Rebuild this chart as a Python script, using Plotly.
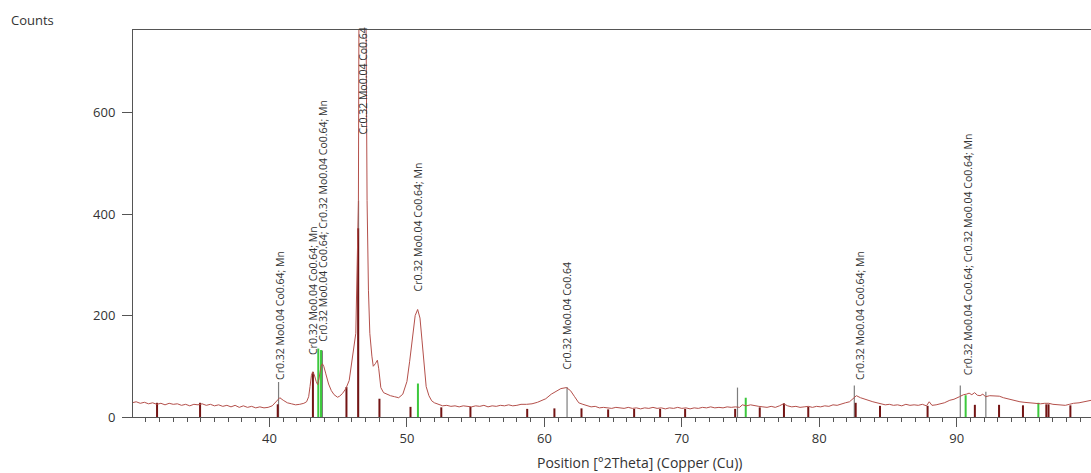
import plotly.graph_objects as go

# ---------------- data ----------------
two_theta = [30.0, 30.3, 30.6, 30.9, 31.2, 31.5, 31.8, 32.1, 32.4, 32.7, 33.0, 33.3, 33.6, 33.9,
             34.2, 34.5, 34.8, 35.1, 35.4, 35.7, 36.0, 36.3, 36.6, 36.9, 37.2, 37.5, 37.8, 38.1,
             38.4, 38.7, 39.0, 39.3, 39.6, 39.9, 40.2, 40.5, 40.75, 41.0, 41.3, 41.6, 41.9, 42.2,
             42.5, 42.7, 42.85, 42.95, 43.05, 43.15, 43.25, 43.4, 43.5, 43.6, 43.75, 43.85, 43.95,
             44.1, 44.3, 44.5, 44.7, 44.95, 45.1, 45.3, 45.56, 45.8, 45.93, 46.1, 46.28, 46.38,
             46.47, 46.52, 46.75, 47.0, 47.1, 47.2, 47.3, 47.45, 47.55, 47.7, 47.85, 47.95, 48.1,
             48.3, 48.5, 48.8, 49.1, 49.4, 49.7, 50.0, 50.2, 50.4, 50.6, 50.78, 50.95, 51.1, 51.26,
             51.4, 51.6, 51.8, 52.0, 52.3, 52.6, 52.9, 53.2, 53.5, 53.8, 54.1, 54.4, 54.7, 55.0,
             55.3, 55.6, 55.9, 56.2, 56.5, 56.8, 57.1, 57.4, 57.7, 58.0, 58.3, 58.7, 59.1, 59.5,
             59.8, 60.1, 60.5, 60.9, 61.2, 61.6, 61.9, 62.2, 62.5, 62.8, 63.1, 63.4, 63.7, 64.0,
             64.3, 64.6, 64.9, 65.2, 65.5, 65.8, 66.1, 66.4, 66.7, 67.0, 67.3, 67.6, 67.9, 68.2,
             68.5, 68.8, 69.1, 69.4, 69.7, 70.0, 70.3, 70.6, 70.9, 71.2, 71.5, 71.8, 72.1, 72.4,
             72.7, 73.0, 73.3, 73.6, 73.9, 74.2, 74.4, 74.7, 75.0, 75.3, 75.6, 75.9, 76.2, 76.5,
             76.8, 77.1, 77.4, 77.7, 78.0, 78.3, 78.6, 78.9, 79.2, 79.5, 79.8, 80.1, 80.4, 80.7,
             81.0, 81.3, 81.6, 81.9, 82.2, 82.5, 82.7, 83.0, 83.3, 83.6, 83.9, 84.2, 84.5, 84.8,
             85.1, 85.4, 85.7, 86.0, 86.3, 86.6, 86.9, 87.2, 87.5, 87.8, 88.0, 88.2, 88.5, 88.8,
             89.1, 89.5, 89.8, 90.2, 90.5, 90.7, 90.9, 91.1, 91.3, 91.5, 91.7, 91.9, 92.1, 92.4,
             92.8, 93.1, 93.4, 93.7, 94.0, 94.3, 94.6, 94.9, 95.2, 95.5, 95.8, 96.1, 96.4, 96.7,
             97.0, 97.3, 97.6, 97.9, 98.2, 98.5, 98.9, 99.2, 99.5, 99.8]
counts = [28, 30, 27, 29, 26, 28, 25, 27, 24, 27, 25, 26, 23, 25,
          22, 25, 24, 26, 23, 25, 22, 24, 21, 23, 20, 23, 19, 22,
          19, 21, 18, 20, 18, 19, 22, 30, 38, 33, 28, 26, 24, 25,
          27, 30, 40, 60, 82, 89, 84, 70, 64, 75, 100, 105, 100,
          85, 65, 52, 44, 39, 41, 46, 56, 72, 98, 130, 165, 300,
          427, 900, 1500, 900, 427, 250, 165, 120, 100, 105, 112, 95, 58,
          48, 45, 42, 40, 38, 45, 70, 110, 160, 200, 212, 195, 150, 98,
          60, 42, 32, 28, 25, 22, 23, 21, 22, 20, 22, 21, 20, 22,
          21, 23, 20, 22, 21, 23, 22, 24, 22, 23, 25, 25, 26, 29,
          32, 36, 45, 52, 56, 58, 52, 40, 28, 25, 22, 20, 21, 18,
          19, 18, 17, 19, 18, 17, 19, 17, 18, 16, 18, 17, 19, 17,
          18, 16, 18, 17, 19, 17, 18, 16, 18, 17, 19, 18, 20, 18,
          19, 18, 20, 19, 20, 19, 24, 22, 24, 22, 21, 20, 19, 21,
          19, 22, 26, 22, 20, 21, 19, 20, 21, 19, 21, 20, 22, 21,
          24, 23, 26, 28, 30, 38, 42, 38, 35, 32, 30, 28, 26, 24,
          25, 23, 24, 22, 25, 23, 24, 23, 25, 22, 30, 23, 24, 26,
          28, 33, 35, 40, 44, 45, 47, 44, 48, 43, 42, 45, 40, 42,
          42, 41, 38, 36, 33, 31, 30, 29, 28, 28, 27, 26, 27, 27,
          25, 24, 24, 23, 25, 27, 28, 30, 31, 33]

# reference pattern sticks (dark red)
ref1_pos = [31.82, 34.95, 40.6, 43.16, 45.6, 46.45, 48.0, 50.26, 52.5, 54.62, 58.75, 60.73,
            62.7, 64.64, 66.53, 68.42, 70.24, 73.88, 75.67, 77.43, 79.2, 82.65, 84.42, 87.88,
            91.32, 93.08, 94.82, 96.52, 96.68, 98.27]
ref1_int = [28, 28, 25, 89, 59, 372, 36, 20, 19, 20, 16, 17,
            17, 15, 16, 16, 16, 16, 19, 27, 20, 28, 22, 22,
            24, 24, 23, 25, 25, 23]
# reference pattern sticks (green)
ref2_pos = [43.55, 43.75, 50.8, 74.65, 90.65, 95.94]
ref2_int = [135, 132, 66, 38, 43, 28]
# peak marker lines (grey)
mark_pos = [40.66, 43.85, 46.48, 61.65, 74.05, 82.55, 90.26, 92.12]
mark_int = [69, 131, 427, 59, 58, 62, 62, 50]

# peak labels
label_pos = [40.72, 43.12, 43.91, 46.84, 50.78, 61.65, 82.92, 90.84]
label_bottom = [69, 118, 145, 553, 244, 89, 69, 79]
label_text = ["Cr0.32 Mo0.04 Co0.64; Mn",
              "Cr0.32 Mo0.04 Co0.64; Mn",
              "Cr0.32 Mo0.04 Co0.64; Cr0.32 Mo0.04 Co0.64; Mn",
              "Cr0.32 Mo0.04 Co0.64",
              "Cr0.32 Mo0.04 Co0.64; Mn",
              "Cr0.32 Mo0.04 Co0.64",
              "Cr0.32 Mo0.04 Co0.64; Mn",
              "Cr0.32 Mo0.04 Co0.64; Cr0.32 Mo0.04 Co0.64; Mn"]

y_ticks = [0, 200, 400, 600]


def sticks(pos, inten):
    xs, ys = [], []
    for p, v in zip(pos, inten):
        xs += [p, p, None]
        ys += [0, v, None]
    return xs, ys


FONT = "Open Sans"
fig = go.Figure()

gx, gy = sticks(mark_pos, mark_int)
fig.add_trace(go.Scatter(x=gx, y=gy, mode="lines",
                         line=dict(color="rgb(125,125,125)", width=1.2), hoverinfo="skip"))
rx, ry = sticks(ref1_pos, ref1_int)
fig.add_trace(go.Scatter(x=rx, y=ry, mode="lines",
                         line=dict(color="rgb(115,20,20)", width=2), hoverinfo="skip"))
ex, ey = sticks(ref2_pos, ref2_int)
fig.add_trace(go.Scatter(x=ex, y=ey, mode="lines",
                         line=dict(color="rgb(60,200,60)", width=2), hoverinfo="skip"))
fig.add_trace(go.Scatter(x=two_theta, y=counts, mode="lines",
                         line=dict(color="rgb(180,80,75)", width=1)))

for p, b, t in zip(label_pos, label_bottom, label_text):
    fig.add_annotation(x=p, y=b, text=t, textangle=-90, showarrow=False,
                       xanchor="center", yanchor="bottom",
                       font=dict(family=FONT, size=10.5, color="#333"))

fig.add_annotation(xref="paper", yref="paper", x=-0.129, y=1.027, text="Counts",
                   showarrow=False, xanchor="left", yanchor="middle",
                   font=dict(family=FONT, size=13, color="#333"))
fig.add_annotation(xref="paper", yref="paper", x=0.529, y=-0.117,
                   text="Position [°2Theta] (Copper (Cu))", showarrow=False,
                   xanchor="center", yanchor="middle",
                   font=dict(family=FONT, size=14, color="#333"))

fig.update_layout(
    width=1091, height=473,
    margin=dict(l=133, r=0, t=30, b=56),
    paper_bgcolor="white", plot_bgcolor="white",
    showlegend=False,
    font=dict(family=FONT, size=13, color="#333"),
    xaxis=dict(range=[30.07, 99.77], showgrid=False, zeroline=False,
               showline=True, linecolor="#555", linewidth=1, mirror=True,
               ticks="outside", ticklen=9, tickcolor="#555", tick0=0, dtick=10,
               minor=dict(dtick=1, ticks="outside", ticklen=4, tickcolor="#555"),
               tickfont=dict(family=FONT, size=13, color="#333")),
    yaxis=dict(range=[0, 763], showgrid=False, zeroline=False,
               showline=True, linecolor="#555", linewidth=1,
               ticks="outside", ticklen=10, tickcolor="#555",
               ticklabelstandoff=4,
               tickvals=y_ticks, ticktext=[str(v) for v in y_ticks],
               tickfont=dict(family=FONT, size=13, color="#333")),
)

fig.write_html("out.html")
